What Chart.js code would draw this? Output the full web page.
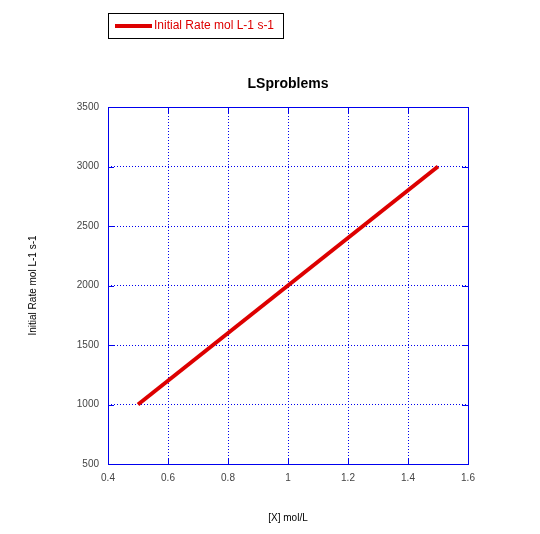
<!DOCTYPE html>
<html>
<head>
<meta charset="utf-8">
<script src="https://cdn.jsdelivr.net/npm/chart.js@4.4.1/dist/chart.umd.min.js"></script>
<style>
  body { margin: 0; background: #fff; }
  #wrap { width: 540px; height: 534px; }
</style>
</head>
<body>
<div id="wrap"><canvas id="rateChart" width="540" height="534"></canvas></div>
<script>
// data
const concX = [0.5, 1.0, 1.5];
const initialRate = [1000, 2000, 3000];
const seriesName = 'Initial Rate mol L-1 s-1';
const chartTitle = 'LSproblems';
const xTitle = '[X] mol/L';
const yTitle = 'Initial Rate mol L-1 s-1';

const FONT = '"Liberation Sans", Arial, sans-serif';
const RED = '#dd0000';
const BLUE = '#0000ee';

// frame, inner ticks, title, axis titles and legend box
const decor = {
  id: 'decor',
  beforeDatasetsDraw(chart) {
    const { ctx, chartArea: a, scales } = chart;
    ctx.save();
    ctx.strokeStyle = BLUE;
    ctx.lineWidth = 1;
    ctx.setLineDash([]);
    ctx.strokeRect(Math.round(a.left) + 0.5, Math.round(a.top) + 0.5,
      Math.round(a.right - a.left), Math.round(a.bottom - a.top));
    ctx.beginPath();
    scales.x.ticks.forEach(t => {
      const px = Math.round(scales.x.getPixelForValue(t.value)) + 0.5;
      ctx.moveTo(px, a.bottom); ctx.lineTo(px, a.bottom - 6);
      ctx.moveTo(px, a.top); ctx.lineTo(px, a.top + 6);
    });
    scales.y.ticks.forEach(t => {
      const py = Math.round(scales.y.getPixelForValue(t.value)) + 0.5;
      ctx.moveTo(a.left, py); ctx.lineTo(a.left + 6, py);
      ctx.moveTo(a.right, py); ctx.lineTo(a.right - 6, py);
    });
    ctx.stroke();
    ctx.restore();
  },
  afterDraw(chart) {
    const { ctx, chartArea: a } = chart;
    const cx = (a.left + a.right) / 2;
    ctx.save();
    ctx.fillStyle = '#000';
    ctx.textAlign = 'center';
    ctx.textBaseline = 'middle';
    ctx.font = 'bold 14px ' + FONT;
    ctx.fillText(chartTitle, cx, 84);
    ctx.font = '10px ' + FONT;
    ctx.fillText(xTitle, cx, 518);
    ctx.translate(33, (a.top + a.bottom) / 2);
    ctx.rotate(-Math.PI / 2);
    ctx.fillText(yTitle, 0, 0);
    ctx.restore();

    // legend
    ctx.save();
    ctx.strokeStyle = '#000';
    ctx.lineWidth = 1;
    ctx.strokeRect(108.5, 13.5, 175, 25);
    ctx.strokeStyle = RED;
    ctx.lineWidth = 4;
    ctx.beginPath();
    ctx.moveTo(115, 26); ctx.lineTo(152, 26);
    ctx.stroke();
    ctx.fillStyle = RED;
    ctx.font = '12px ' + FONT;
    ctx.textAlign = 'left';
    ctx.textBaseline = 'middle';
    ctx.fillText(seriesName, 154, 26);
    ctx.restore();
  }
};

new Chart(document.getElementById('rateChart'), {
  type: 'line',
  data: {
    datasets: [{
      label: seriesName,
      data: concX.map((x, i) => ({ x: x, y: initialRate[i] })),
      borderColor: RED,
      backgroundColor: RED,
      borderWidth: 4,
      pointRadius: 0,
      tension: 0,
      fill: false
    }]
  },
  options: {
    responsive: false,
    animation: false,
    layout: { padding: { left: 0, right: 72, top: 107, bottom: 0 } },
    plugins: { legend: { display: false }, title: { display: false }, tooltip: { enabled: false } },
    scales: {
      x: {
        type: 'linear',
        min: 0.4, max: 1.6,
        afterFit: s => { s.height = 70; },
        border: { display: false, dash: [1, 2] },
        grid: { color: BLUE, lineWidth: 1, drawTicks: false },
        ticks: {
          stepSize: 0.2, padding: 8, color: '#444', autoSkip: false, maxRotation: 0,
          font: { family: FONT, size: 10 },
          callback: v => String(Math.round(v * 10) / 10)
        }
      },
      y: {
        min: 500, max: 3500,
        afterFit: s => { s.width = 108; },
        border: { display: false, dash: [1, 2] },
        grid: { color: BLUE, lineWidth: 1, drawTicks: false },
        ticks: {
          stepSize: 500, padding: 9, color: '#444', autoSkip: false,
          font: { family: FONT, size: 10 },
          callback: v => String(v)
        }
      }
    }
  },
  plugins: [decor]
});
</script>
</body>
</html>
